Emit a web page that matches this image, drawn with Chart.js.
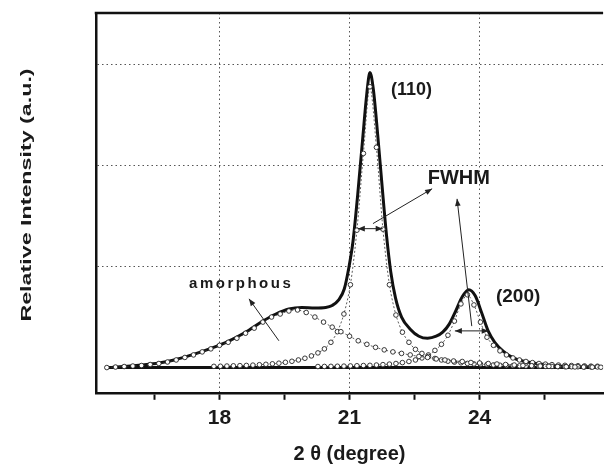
<!DOCTYPE html>
<html>
<head>
<meta charset="utf-8">
<title>XRD profile fit</title>
<script src="https://cdn.jsdelivr.net/npm/chart.js@4.4.1/dist/chart.umd.min.js"></script>
<style>
  html, body { margin: 0; padding: 0; background: #fff; overflow: hidden; }
  #wrap { width: 608px; height: 464px; }
</style>
</head>
<body>
<div id="wrap"><canvas id="xrdChart" width="608" height="464"></canvas></div>
<script>
var FONT = "'Liberation Sans', Arial, Helvetica, sans-serif";

// x ticks (minor ones carry no label)
var xTickValues = [16.5, 18, 19.5, 21, 22.5, 24, 25.5];
var xTickLabels = ["", "18", "", "21", "", "24", ""];
var yGridValues = [1, 2, 3];

// measured / fitted total profile
var totalTheta = [15.45, 15.8, 16.2, 16.6, 17.0, 17.4, 17.8, 18.2, 18.6, 19.0, 19.3, 19.6, 19.9, 20.2, 20.45,
    20.6, 20.75, 20.88, 20.98, 21.08, 21.19, 21.3, 21.4, 21.47, 21.55, 21.65, 21.75, 21.85, 21.95, 22.06,
    22.2, 22.4, 22.6, 22.8, 23.0, 23.15, 23.3, 23.45, 23.6, 23.75, 23.9, 24.05, 24.2, 24.35, 24.55,
    24.8, 25.1, 25.4, 25.8, 26.2, 26.85];
var totalIntensity = [0.0, 0.01, 0.025, 0.045, 0.08, 0.13, 0.19, 0.26, 0.35, 0.46, 0.53, 0.58, 0.595, 0.59, 0.595,
    0.615, 0.67, 0.78, 0.98, 1.25, 1.72, 2.25, 2.72, 2.92, 2.75, 2.3, 1.8, 1.32, 0.95, 0.69,
    0.5, 0.38, 0.31, 0.29, 0.31, 0.35, 0.43, 0.56, 0.7, 0.77, 0.71, 0.54, 0.36, 0.25, 0.16,
    0.09, 0.055, 0.035, 0.015, 0.007, 0.004];

// amorphous halo
var amorphousTheta = [15.4, 15.6, 15.8, 16.0, 16.2, 16.4, 16.6, 16.8, 17.0, 17.2, 17.4, 17.6, 17.8, 18.0, 18.2,
    18.4, 18.6, 18.8, 19.0, 19.2, 19.4, 19.6, 19.8, 20.0, 20.2, 20.4, 20.6, 20.8, 21.0, 21.2,
    21.4, 21.6, 21.8, 22.0, 22.2, 22.4, 22.6, 22.8, 23.0, 23.2, 23.4, 23.6, 23.8, 24.0, 24.2,
    24.4, 24.6, 24.8, 25.0, 25.2, 25.4, 25.6, 25.8, 26.0, 26.2, 26.4, 26.6, 26.8];
var amorphousIntensity = [0.0, 0.005, 0.01, 0.015, 0.02, 0.03, 0.04, 0.055, 0.075, 0.1, 0.125, 0.155, 0.185, 0.22, 0.25,
    0.29, 0.34, 0.39, 0.45, 0.5, 0.53, 0.56, 0.57, 0.545, 0.5, 0.45, 0.4, 0.355, 0.31, 0.265,
    0.23, 0.2, 0.175, 0.155, 0.14, 0.125, 0.11, 0.1, 0.085, 0.075, 0.065, 0.06, 0.05, 0.045, 0.04,
    0.035, 0.03, 0.025, 0.02, 0.018, 0.015, 0.012, 0.01, 0.008, 0.006, 0.005, 0.004, 0.003];

// (110) reflection
var peak110Theta = [17.87, 18.02, 18.17, 18.32, 18.47, 18.62, 18.77, 18.92, 19.07, 19.22, 19.37, 19.52, 19.67, 19.82, 19.97,
    20.12, 20.27, 20.42, 20.57, 20.72, 20.87, 21.02, 21.17, 21.32, 21.47, 21.62, 21.77, 21.92, 22.07, 22.22,
    22.37, 22.52, 22.67, 22.82, 22.97, 23.12, 23.27, 23.42, 23.57, 23.72, 23.87, 24.02, 24.17, 24.32, 24.47,
    24.62, 24.77, 24.92, 25.07, 25.22, 25.37, 25.52, 25.67, 25.82, 25.97, 26.12, 26.27, 26.42, 26.57, 26.72];
var peak110Intensity = [0.012, 0.013, 0.015, 0.017, 0.019, 0.021, 0.024, 0.028, 0.032, 0.037, 0.043, 0.052, 0.062, 0.075, 0.092,
    0.115, 0.145, 0.185, 0.25, 0.355, 0.53, 0.82, 1.36, 2.12, 2.78, 2.18, 1.37, 0.82, 0.52, 0.35,
    0.25, 0.18, 0.14, 0.11, 0.09, 0.075, 0.063, 0.054, 0.047, 0.041, 0.036, 0.032, 0.029, 0.026, 0.023,
    0.021, 0.019, 0.017, 0.015, 0.014, 0.013, 0.012, 0.011, 0.01, 0.009, 0.008, 0.008, 0.007, 0.006, 0.006];

// (200) reflection
var peak200Theta = [20.27, 20.42, 20.57, 20.72, 20.87, 21.02, 21.17, 21.32, 21.47, 21.62, 21.77, 21.92, 22.07, 22.22, 22.37,
    22.52, 22.67, 22.82, 22.97, 23.12, 23.27, 23.42, 23.57, 23.72, 23.87, 24.02, 24.17, 24.32, 24.47, 24.62,
    24.77, 24.92, 25.07, 25.22, 25.37, 25.52, 25.67, 25.82, 25.97, 26.12, 26.27, 26.42, 26.57, 26.72];
var peak200Intensity = [0.01, 0.011, 0.012, 0.013, 0.014, 0.016, 0.018, 0.02, 0.022, 0.025, 0.029, 0.034, 0.04, 0.049, 0.06,
    0.075, 0.095, 0.125, 0.17, 0.23, 0.32, 0.46, 0.63, 0.72, 0.62, 0.45, 0.3, 0.22, 0.165, 0.125,
    0.095, 0.075, 0.06, 0.049, 0.04, 0.034, 0.029, 0.025, 0.022, 0.02, 0.018, 0.016, 0.014, 0.013];

var baselineTheta = [15.45, 26.85];
var baselineIntensity = [0, 0];

// text labels and arrows, placed in data units
var noteTexts = ["(110)", "FWHM", "amorphous", "(200)"];
var noteAt = [[22.43, 2.75], [23.52, 1.87], [18.5, 0.83], [24.89, 0.70]];
var noteSize = [18, 20, 15, 19];

var arrowFrom = [[19.37, 0.265], [21.54, 1.425], [23.82, 0.41], [21.19, 1.375], [23.43, 0.363]];
var arrowTo = [[18.68, 0.68], [22.905, 1.77], [23.48, 1.67], [21.765, 1.375], [24.21, 0.363]];
var arrowBoth = [false, false, false, true, true];

var toPoints = function (xs, ys) {
    return xs.map(function (x, i) { return { x: x, y: ys[i] }; });
};

var circleSeries = function (xs, ys) {
    return {
        data: toPoints(xs, ys),
        showLine: true,
        borderColor: "#333",
        borderWidth: 0.8,
        borderDash: [2, 2],
        tension: 0.3,
        pointRadius: 2.3,
        pointBorderWidth: 0.9,
        pointBorderColor: "#222",
        pointBackgroundColor: "#fff"
    };
};

var drawHead = function (ctx, x1, y1, x2, y2) {
    var ang = Math.atan2(y2 - y1, x2 - x1);
    ctx.beginPath();
    ctx.moveTo(x2, y2);
    ctx.lineTo(x2 - 7 * Math.cos(ang) + 2.8 * Math.sin(ang), y2 - 7 * Math.sin(ang) - 2.8 * Math.cos(ang));
    ctx.lineTo(x2 - 7 * Math.cos(ang) - 2.8 * Math.sin(ang), y2 - 7 * Math.sin(ang) + 2.8 * Math.cos(ang));
    ctx.closePath();
    ctx.fill();
};

var decorations = {
    id: "decorations",
    afterDatasetsDraw: function (chart) {
        var ctx = chart.ctx, xs = chart.scales.x, ys = chart.scales.y, area = chart.chartArea;
        ctx.save();
        // top edge of the frame
        ctx.strokeStyle = "#111";
        ctx.lineWidth = 2.5;
        ctx.beginPath();
        ctx.moveTo(area.left - 1.25, area.top);
        ctx.lineTo(area.right, area.top);
        ctx.stroke();

        // arrows
        ctx.strokeStyle = "#222";
        ctx.fillStyle = "#222";
        ctx.lineWidth = 1;
        arrowFrom.forEach(function (f, i) {
            var x1 = xs.getPixelForValue(f[0]), y1 = ys.getPixelForValue(f[1]);
            var x2 = xs.getPixelForValue(arrowTo[i][0]), y2 = ys.getPixelForValue(arrowTo[i][1]);
            ctx.beginPath();
            ctx.moveTo(x1, y1);
            ctx.lineTo(x2, y2);
            ctx.stroke();
            drawHead(ctx, x1, y1, x2, y2);
            if (arrowBoth[i]) drawHead(ctx, x2, y2, x1, y1);
        });

        // labels
        ctx.fillStyle = "#1a1a1a";
        ctx.textAlign = "center";
        ctx.textBaseline = "middle";
        noteTexts.forEach(function (t, i) {
            ctx.font = "bold " + noteSize[i] + "px " + FONT;
            ctx.letterSpacing = t === "amorphous" ? "2.5px" : "0px";
            ctx.fillText(t, xs.getPixelForValue(noteAt[i][0]), ys.getPixelForValue(noteAt[i][1]));
        });
        ctx.letterSpacing = "0px";

        // y axis title, drawn wide like the original lettering
        ctx.translate(27, area.top + 182);
        ctx.rotate(-Math.PI / 2);
        ctx.scale(1.55, 1);
        ctx.font = "bold 15px " + FONT;
        ctx.fillText("Relative Intensity (a.u.)", 0, 0);
        ctx.restore();
    }
};

var ctx = document.getElementById("xrdChart").getContext("2d");
var chart = new Chart(ctx, {
    type: "scatter",
    data: {
        datasets: [
            circleSeries(amorphousTheta, amorphousIntensity),
            circleSeries(peak110Theta, peak110Intensity),
            circleSeries(peak200Theta, peak200Intensity),
            {
                data: toPoints(totalTheta, totalIntensity),
                showLine: true,
                borderColor: "#111",
                borderWidth: 3,
                cubicInterpolationMode: "monotone",
                pointRadius: 0
            },
            {
                data: toPoints(baselineTheta, baselineIntensity),
                showLine: true,
                borderColor: "#111",
                borderWidth: 3,
                pointRadius: 0
            }
        ]
    },
    options: {
        responsive: false,
        animation: false,
        layout: { padding: { left: 96, top: 13, right: 0, bottom: 0 } },
        plugins: {
            legend: { display: false },
            tooltip: { enabled: false }
        },
        scales: {
            x: {
                type: "linear",
                min: 15.15,
                max: 26.85,
                afterBuildTicks: function (scale) {
                    scale.ticks = xTickValues.map(function (v) { return { value: v }; });
                },
                ticks: {
                    autoSkip: false,
                    maxRotation: 0,
                    padding: 6,
                    color: "#1a1a1a",
                    font: { family: FONT, size: 21, weight: "bold" },
                    callback: function (value) {
                        var i = xTickValues.indexOf(value);
                        return i < 0 ? "" : xTickLabels[i];
                    }
                },
                grid: {
                    color: function (c) {
                        if (!c.tick) return "rgba(0,0,0,0)";
                        return xTickLabels[xTickValues.indexOf(c.tick.value)] ? "#555" : "rgba(0,0,0,0)";
                    },
                    lineWidth: 1,
                    tickColor: "#111",
                    tickWidth: 2,
                    tickLength: 7
                },
                border: { display: true, color: "#111", width: 2.5, dash: [1.5, 3] },
                title: {
                    display: true,
                    text: "2 θ (degree)",
                    color: "#1a1a1a",
                    font: { family: FONT, size: 20, weight: "bold", lineHeight: 1 },
                    padding: { top: 7, bottom: 0 }
                }
            },
            y: {
                type: "linear",
                min: -0.25,
                max: 3.51,
                afterBuildTicks: function (scale) {
                    scale.ticks = yGridValues.map(function (v) { return { value: v }; });
                },
                ticks: { display: false },
                grid: { color: "#555", lineWidth: 1, drawTicks: false },
                border: { display: true, color: "#111", width: 2.5, dash: [1.5, 3] }
            }
        }
    },
    plugins: [decorations]
});
</script>
</body>
</html>
